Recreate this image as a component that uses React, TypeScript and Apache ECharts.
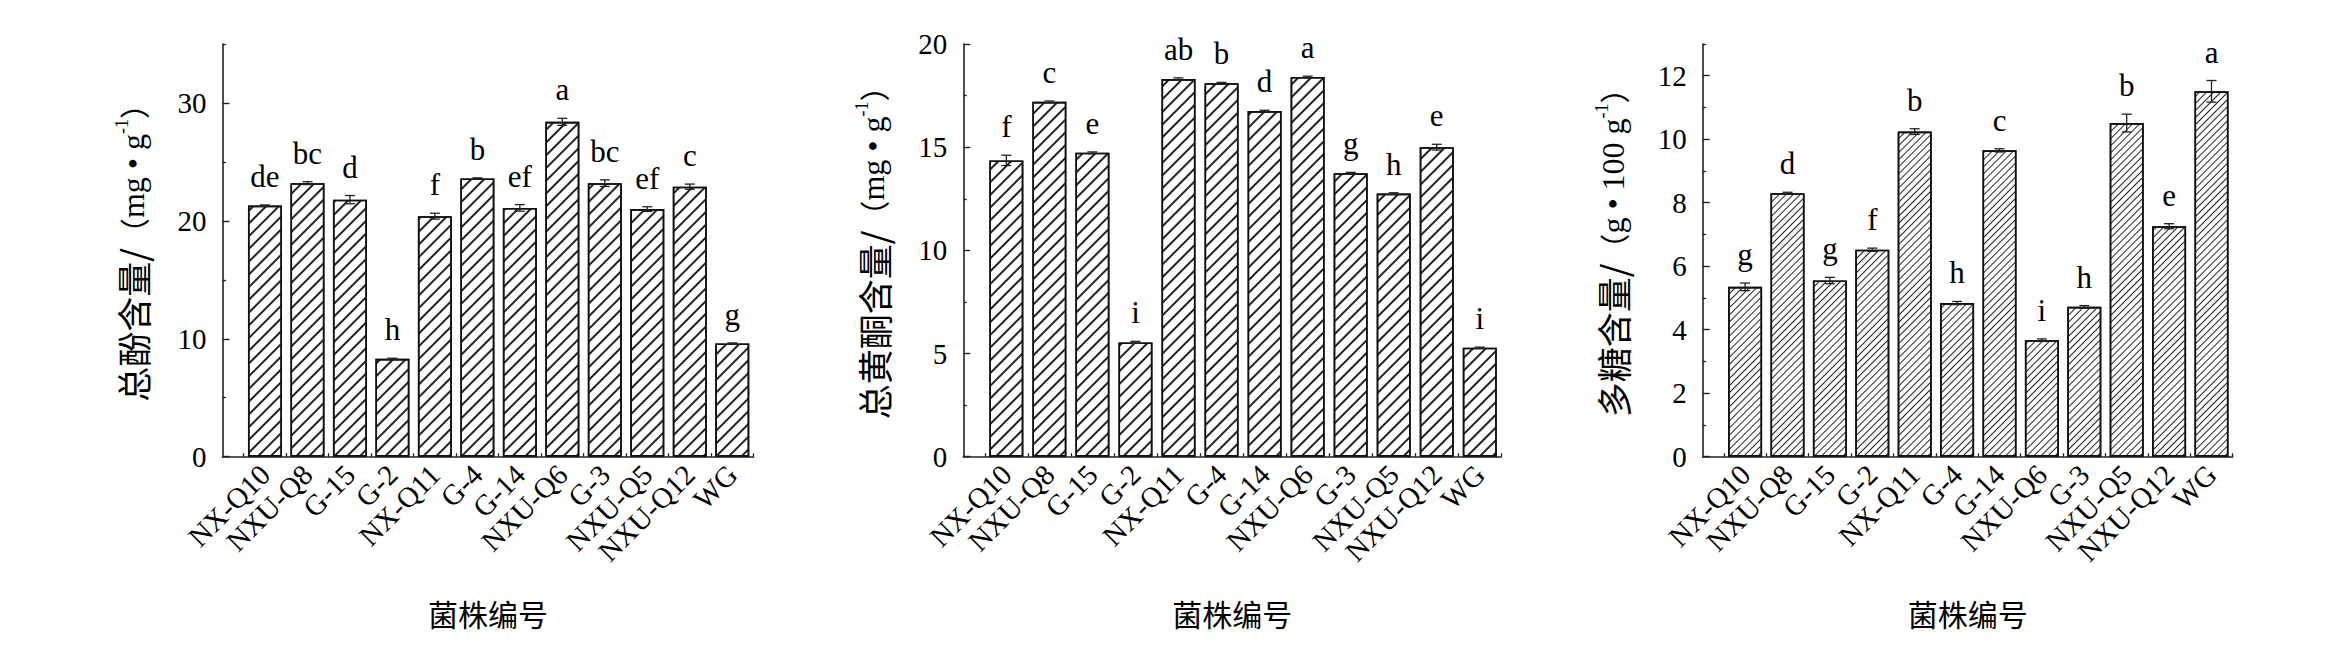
import React, { useEffect, useRef } from 'react';
import * as echarts from 'echarts';

const strains = ['NX-Q10', 'NXU-Q8', 'G-15', 'G-2', 'NX-Q11', 'G-4', 'G-14', 'NXU-Q6', 'G-3', 'NXU-Q5', 'NXU-Q12', 'WG'];

const phenolMean = [21.3, 23.2, 21.8, 8.3, 20.4, 23.6, 21.1, 28.4, 23.2, 21.0, 22.9, 9.6];
const phenolErr = [0.05, 0.12, 0.35, 0.05, 0.25, 0.05, 0.28, 0.3, 0.28, 0.2, 0.22, 0.05];
const phenolLetters = ['de', 'bc', 'd', 'h', 'f', 'b', 'ef', 'a', 'bc', 'ef', 'c', 'g'];
const phenolTicks = [0, 10, 20, 30];
const phenolMax = 35;

const flavonoidMean = [14.36, 17.2, 14.73, 5.54, 18.3, 18.1, 16.75, 18.4, 13.74, 12.75, 15.0, 5.28];
const flavonoidErr = [0.25, 0.04, 0.04, 0.05, 0.06, 0.04, 0.04, 0.04, 0.04, 0.04, 0.14, 0.03];
const flavonoidLetters = ['f', 'c', 'e', 'i', 'ab', 'b', 'd', 'a', 'g', 'h', 'e', 'i'];
const flavonoidTicks = [0, 5, 10, 15, 20];
const flavonoidMax = 20;

const polysaccharideMean = [5.35, 8.3, 5.55, 6.52, 10.24, 4.84, 9.65, 3.67, 4.72, 10.51, 7.26, 11.51];
const polysaccharideErr = [0.12, 0.03, 0.1, 0.05, 0.09, 0.05, 0.05, 0.04, 0.04, 0.28, 0.08, 0.34];
const polysaccharideLetters = ['g', 'd', 'g', 'f', 'b', 'h', 'c', 'i', 'h', 'b', 'e', 'a'];
const polysaccharideTicks = [0, 2, 4, 6, 8, 10, 12];
const polysaccharideMax = 13;

// [CJK part, opening paren, unit part, superscript, closing paren]
const yNames = [
  ['总酚含量/', '（', 'mg • g', '-1', '）'],
  ['总黄酮含量/', '（', 'mg • g', '-1', '）'],
  ['多糖含量/', '（', 'g • 100 g', '-1', '）'],
];
const xName = '菌株编号';

const SERIF = '"Liberation Serif", "Times New Roman", serif';
const CJK = '"Noto Sans CJK SC", sans-serif';

const panels = [
  { mean: phenolMean, err: phenolErr, letters: phenolLetters, ticks: phenolTicks, max: phenolMax, left: 222.5, width: 531, hatch: [2, 7] },
  { mean: flavonoidMean, err: flavonoidErr, letters: flavonoidLetters, ticks: flavonoidTicks, max: flavonoidMax, left: 963.3, width: 538, hatch: [2, 7] },
  { mean: polysaccharideMean, err: polysaccharideErr, letters: polysaccharideLetters, ticks: polysaccharideTicks, max: polysaccharideMax, left: 1702.7, width: 530, hatch: [1, 4] },
];

function buildOption() {
  const n = strains.length;
  const centers = strains.map((_, i) => i);
  const bounds: number[] = [];
  for (let i = 0; i <= n; i++) bounds.push(i - 0.5);
  const axisLine = { show: true, onZero: false, lineStyle: { color: '#222', width: 1.6 } };
  const noLine = { show: false, onZero: false };

  const grid: any[] = [];
  const xAxis: any[] = [];
  const yAxis: any[] = [];
  const series: any[] = [];

  panels.forEach((p, k) => {
    grid.push({ left: p.left, top: 44, width: p.width, height: 412.7, containLabel: false });
    const minor: number[] = [];
    for (let i = 1; i < p.ticks.length; i++) minor.push((p.ticks[i - 1] + p.ticks[i]) / 2);
    const last = p.ticks[p.ticks.length - 1];
    if (p.max > last) minor.push(p.max);

    xAxis.push({
      type: 'value', gridIndex: k, min: -1, max: n - 0.5, position: 'bottom',
      axisLine,
      splitLine: { show: false },
      axisTick: { show: true, inside: true, length: 6, customValues: centers, lineStyle: { color: '#222', width: 1.3 } },
      axisLabel: {
        show: true, customValues: centers, rotate: 45, margin: 13,
        fontFamily: SERIF, fontSize: 29, color: '#000',
        formatter: (v: number) => strains[Math.round(v)] ?? '',
      },
      name: xName, nameLocation: 'middle', nameGap: 141,
      nameTextStyle: { fontFamily: CJK, fontSize: 30, color: '#000' },
    });
    xAxis.push({
      type: 'value', gridIndex: k, min: -1, max: n - 0.5, position: 'bottom',
      axisLine: noLine, splitLine: { show: false },
      axisTick: { show: true, inside: true, length: 3.5, customValues: bounds, lineStyle: { color: '#222', width: 1.3 } },
      axisLabel: { show: false },
    });
    const nm = yNames[k];
    yAxis.push({
      type: 'value', gridIndex: k, min: 0, max: p.max, position: 'left',
      axisLine, splitLine: { show: false },
      axisTick: { show: true, inside: true, length: 7, customValues: p.ticks, lineStyle: { color: '#222', width: 1.4 } },
      axisLabel: { show: true, customValues: p.ticks, margin: 16, fontFamily: SERIF, fontSize: 29, color: '#000' },
      name: `{c|${nm[0]}}{p|${nm[1]}}{a|${nm[2]}}{s|${nm[3]}}{p|${nm[4]}}`,
      nameLocation: 'middle', nameRotate: 90, nameGap: 70,
      nameTextStyle: {
        padding: [0, 0, 0, 10],
        rich: {
          c: { fontFamily: CJK, fontSize: 35, color: '#000', lineHeight: 40 },
          p: { fontFamily: CJK, fontSize: 30, color: '#000', lineHeight: 40 },
          a: { fontFamily: SERIF, fontSize: 32, color: '#000', lineHeight: 40 },
          s: { fontFamily: SERIF, fontSize: 18, color: '#000', verticalAlign: 'top', lineHeight: 24 },
        },
      },
    });
    yAxis.push({
      type: 'value', gridIndex: k, min: 0, max: p.max, position: 'left',
      axisLine: noLine, splitLine: { show: false },
      axisTick: { show: true, inside: true, length: 3.5, customValues: minor, lineStyle: { color: '#222', width: 1.3 } },
      axisLabel: { show: false },
    });

    series.push({
      type: 'bar', xAxisIndex: k * 2, yAxisIndex: k * 2,
      data: p.mean.map((v, i) => [i, v]),
      barWidth: 34,
      itemStyle: {
        color: '#fff', borderColor: '#111', borderWidth: 1.6,
        decal: {
          symbol: 'rect', symbolSize: 1, color: '#222',
          dashArrayX: [1, 0], dashArrayY: p.hatch, rotation: -Math.PI / 4,
        },
      },
      z: 2,
    });
    const letters = p.letters;
    series.push({
      type: 'custom', xAxisIndex: k * 2, yAxisIndex: k * 2,
      data: p.mean.map((v, i) => [i, v, p.err[i]]),
      encode: { x: 0, y: 1 },
      z: 10,
      renderItem: (params: any, api: any) => {
        const x = api.value(0);
        const m = api.value(1);
        const e = api.value(2);
        const top = api.coord([x, m + e]);
        const bot = api.coord([x, m - e]);
        const cap = 5;
        const st = { stroke: '#222', lineWidth: 1.3 };
        return {
          type: 'group',
          children: [
            { type: 'line', shape: { x1: top[0], y1: top[1], x2: bot[0], y2: bot[1] }, style: st },
            { type: 'line', shape: { x1: top[0] - cap, y1: top[1], x2: top[0] + cap, y2: top[1] }, style: st },
            { type: 'line', shape: { x1: bot[0] - cap, y1: bot[1], x2: bot[0] + cap, y2: bot[1] }, style: st },
            {
              type: 'text', x: top[0], y: top[1] - 13,
              style: {
                text: letters[params.dataIndex], fontFamily: SERIF, fontSize: 31, fill: '#000',
                align: 'center', verticalAlign: 'bottom',
              },
            },
          ],
        };
      },
    });
  });

  return { animation: false, backgroundColor: '#fff', grid, xAxis, yAxis, series };
}

export default function App() {
  const ref = useRef<HTMLDivElement>(null);
  useEffect(() => {
    if (!ref.current) return;
    const chart = echarts.init(ref.current, undefined, { renderer: 'svg' });
    chart.setOption(buildOption() as any);
    return () => chart.dispose();
  }, []);
  return (
    <div
      ref={ref}
      style={{ position: 'fixed', left: 0, top: 0, width: 2343, height: 646, background: '#fff' }}
    />
  );
}
